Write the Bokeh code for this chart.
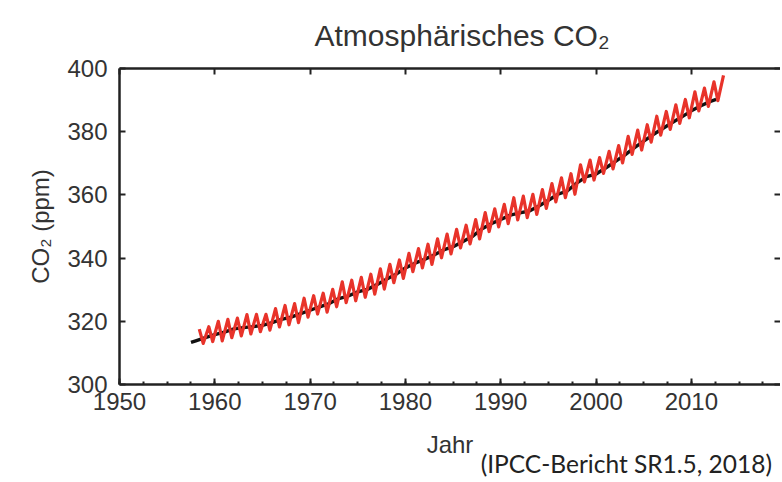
from bokeh.plotting import figure
from bokeh.models import Range1d, LinearAxis, SingleIntervalTicker, CustomJSTickFormatter, Div
from bokeh.layouts import column
from bokeh.embed import file_html
from bokeh.resources import INLINE

# ---- data ----
red_years = list(range(1958, 2014))
red_peaks = [317.5, 318.3, 320.0, 320.6, 321.0, 322.1, 322.2, 322.2, 324.0, 325.0,
             325.6, 327.3, 328.1, 328.9, 330.1, 332.5, 333.0, 333.9, 334.9, 336.6,
             338.0, 339.4, 341.5, 343.0, 344.4, 346.1, 347.6, 349.1, 350.4, 352.2,
             354.4, 355.6, 357.0, 359.1, 359.6, 360.2, 361.7, 363.6, 365.4, 366.7,
             369.5, 371.0, 371.8, 373.8, 375.6, 378.5, 380.5, 382.2, 384.9, 386.4,
             388.5, 390.2, 392.6, 393.8, 395.8, 397.8]
red_troughs = [313.0, 313.6, 313.8, 314.8, 315.4, 316.0, 316.7, 317.2, 318.2, 318.9,
               319.6, 321.3, 322.3, 322.9, 324.6, 325.9, 326.5, 327.6, 328.6, 330.2,
               332.2, 333.6, 335.7, 336.9, 338.0, 340.1, 341.3, 343.2, 344.5, 346.1,
               348.4, 349.9, 350.9, 352.1, 352.8, 353.8, 355.7, 357.8, 359.1, 360.2,
               364.1, 364.7, 366.8, 368.2, 370.1, 372.8, 374.2, 376.7, 378.9, 380.7,
               382.6, 384.4, 386.6, 388.0, 389.8]
black_years = [1957.5, 1958, 1959, 1960, 1961, 1962, 1963, 1964, 1965, 1966, 1967,
               1968, 1969, 1970, 1971, 1972, 1973, 1974, 1975, 1976, 1977, 1978,
               1979, 1980, 1981, 1982, 1983, 1984, 1985, 1986, 1987, 1988, 1989,
               1990, 1991, 1992, 1993, 1994, 1995, 1996, 1997, 1998, 1999, 2000,
               2001, 2002, 2003, 2004, 2005, 2006, 2007, 2008, 2009, 2010, 2011,
               2012, 2012.6]
black_co2 = [313.3, 313.8, 314.8, 315.8, 316.6, 317.6, 318.0, 318.3, 318.7, 319.6,
             320.6, 321.3, 322.4, 323.5, 324.6, 325.6, 327.2, 328.0, 329.3, 330.1,
             331.6, 333.3, 334.9, 336.9, 338.4, 339.6, 341.0, 342.6, 343.6, 345.2,
             346.8, 349.2, 350.9, 352.2, 353.6, 354.3, 354.9, 356.5, 358.3, 360.2,
             361.3, 363.8, 365.8, 366.6, 368.5, 370.5, 372.6, 374.9, 377.0, 379.1,
             381.0, 382.9, 384.7, 386.6, 388.2, 389.6, 390.2]
peak_phase = 0.37   # May maximum
trough_phase = 0.78  # October minimum

title_text = "Atmosphärisches CO₂"
x_label = "Jahr"
y_label = "CO₂ (ppm)"
caption = "(IPCC-Bericht SR1.5, 2018)"

# ---- build zig-zag series ----
red_x, red_y = [], []
for i, yr in enumerate(red_years):
    red_x.append(yr + peak_phase)
    red_y.append(red_peaks[i])
    if i < len(red_troughs):
        red_x.append(yr + trough_phase)
        red_y.append(red_troughs[i])

TXT = "#333333"
FONT = "Liberation Sans"

p = figure(width=780, height=480,
           x_range=Range1d(1950, 2019.35), y_range=Range1d(300, 400),
           output_backend="svg", toolbar_location=None,
           min_border_left=119, min_border_right=0, min_border_top=67,
           min_border_bottom=96)

p.outline_line_color = None
p.xgrid.visible = False
p.ygrid.visible = False
p.background_fill_color = "white"
p.border_fill_color = "white"

p.title.text = title_text
p.title.align = "left"
p.title.text_font = FONT
p.title.text_font_size = "30px"
p.title.text_font_style = "normal"
p.title.text_color = TXT
p.title.offset = 195
p.title.standoff = 33

p.line(black_years, black_co2, line_color="#111111", line_width=3.4, line_join="round")
p.line(red_x, red_y, line_color="#e8332a", line_width=3.2, line_join="round")

blank = CustomJSTickFormatter(code="return ''")

def style(ax):
    ax.axis_line_color = "#222222"
    ax.axis_line_width = 2.5
    ax.major_tick_line_color = "#222222"
    ax.major_tick_line_width = 2
    ax.major_tick_in = 6
    ax.major_tick_out = 0
    ax.minor_tick_line_color = "#222222"
    ax.minor_tick_line_width = 2
    ax.minor_tick_in = 3
    ax.minor_tick_out = 0
    ax.major_label_text_font = FONT
    ax.major_label_text_font_size = "24px"
    ax.major_label_text_color = TXT
    ax.axis_label_text_font = FONT
    ax.axis_label_text_font_size = "24px"
    ax.axis_label_text_font_style = "normal"
    ax.axis_label_text_color = TXT

xa = p.xaxis[0]
xa.ticker = SingleIntervalTicker(interval=10, num_minor_ticks=4)
style(xa)
xa.axis_label = x_label
xa.major_label_standoff = 8
xa.axis_label_standoff = 18

ya = p.yaxis[0]
ya.ticker = SingleIntervalTicker(interval=20, num_minor_ticks=0)
style(ya)
ya.axis_label = y_label
ya.major_label_standoff = 12
ya.axis_label_standoff = 10
ya.minor_tick_in = 0

top = LinearAxis(ticker=SingleIntervalTicker(interval=10, num_minor_ticks=0), formatter=blank)
style(top)
top.minor_tick_in = 0
top.major_label_standoff = 0
p.add_layout(top, "above")

right = LinearAxis(ticker=SingleIntervalTicker(interval=20, num_minor_ticks=0), formatter=blank)
style(right)
right.axis_line_color = None
right.minor_tick_in = 0
right.major_label_standoff = 0
p.add_layout(right, "right")

cap = Div(text='<div style="width:772px;text-align:right;font-family:Lato;'
               'font-size:24.5px;line-height:30px;color:#222222;white-space:nowrap;">'
               + caption + '</div>',
          width=780, height=30, margin=(-31, 0, 0, 0))

layout = column(p, cap, spacing=0)

open("out.html", "w").write(file_html(layout, INLINE))
